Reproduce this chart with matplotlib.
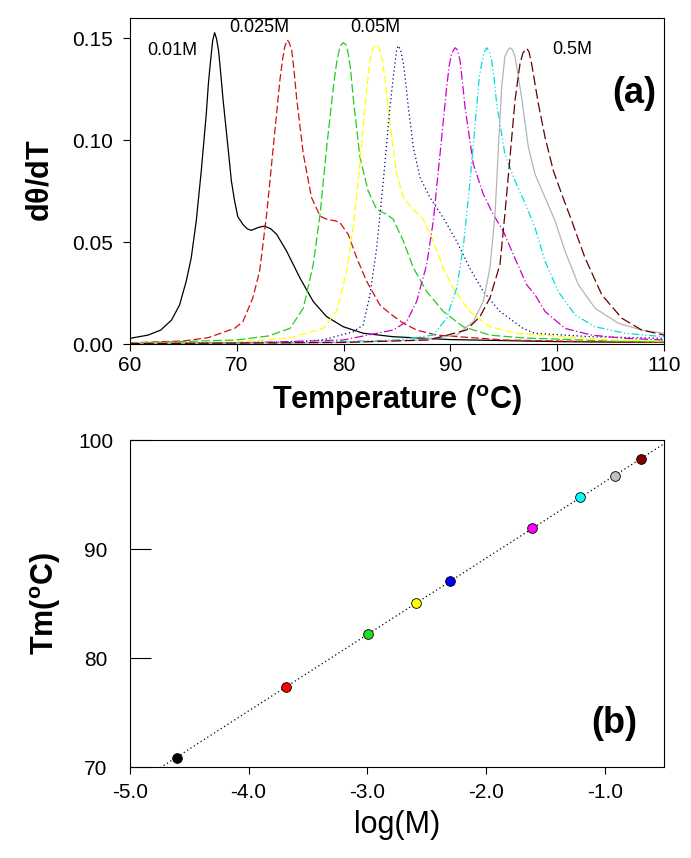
import numpy as np
import matplotlib
matplotlib.use("Agg")
import matplotlib.pyplot as plt

plt.rcParams['font.family'] = ['Liberation Sans', 'DejaVu Sans']
plt.rcParams['mathtext.default'] = 'regular'

# dθ/dT curves
t_black = [60.0, 61.7, 62.9, 63.9, 64.65, 65.27, 65.74, 66.21, 66.68, 67.15, 67.35, 67.55, 67.75, 67.93, 68.1,
           68.3, 68.5, 68.7, 69.18, 69.5, 69.8, 70.1, 70.58, 71.0, 71.36, 72.0, 72.6, 73.2, 73.74, 74.67, 75.92,
           77.16, 78.4, 79.97, 81.84, 84.65, 90, 100, 110]
y_black = [0.0028, 0.0044, 0.0069, 0.0118, 0.0192, 0.0308, 0.0423, 0.0604, 0.085, 0.113, 0.128, 0.139, 0.149,
           0.1528, 0.150, 0.144, 0.133, 0.121, 0.0966, 0.080, 0.0702, 0.0625, 0.0587, 0.0565, 0.0558, 0.0572,
           0.0579, 0.0565, 0.0538, 0.0456, 0.0324, 0.0209, 0.0135, 0.0085, 0.0053, 0.0036, 0.0022, 0.0012, 0.0008]

t_red = [60, 65, 67.3, 69.8, 70.58, 71.5, 72.14, 72.8, 73.42, 74.04, 74.3, 74.5, 74.73, 74.9, 75.14, 75.35, 75.6,
         76.23, 77.0, 77.8, 78.3, 78.73, 79.2, 79.66, 80.44, 81.23, 82.16, 83.4, 84.34, 85.6, 86.84, 88.7, 95,
         105, 110]
y_red = [0.0006, 0.0015, 0.0031, 0.0077, 0.011, 0.0226, 0.0357, 0.0637, 0.0966, 0.1295, 0.140, 0.146, 0.1492,
         0.148, 0.1443, 0.135, 0.121, 0.0933, 0.0719, 0.0628, 0.0615, 0.0609, 0.0605, 0.0596, 0.0538, 0.0423,
         0.0308, 0.0192, 0.015, 0.0102, 0.0069, 0.0044, 0.002, 0.001, 0.0008]

t_green = [60, 70, 73, 74.98, 76.23, 77.16, 77.8, 78.42, 79.04, 79.35, 79.66, 79.97, 80.2, 80.44, 80.65, 80.9,
           81.53, 82.3, 83.1, 84.04, 84.65, 85.6, 86.53, 87.78, 89.33, 91.2, 93.7, 96.8, 105, 110]
y_green = [0.0005, 0.002, 0.004, 0.0077, 0.0176, 0.039, 0.0637, 0.0966, 0.126, 0.138, 0.146, 0.148, 0.147,
           0.1426, 0.135, 0.121, 0.0917, 0.0752, 0.066, 0.0637, 0.0612, 0.0505, 0.0374, 0.0258, 0.016, 0.0085,
           0.0044, 0.003, 0.0015, 0.001]

t_yellow = [60, 70, 75, 78.1, 79.35, 80.29, 80.9, 81.53, 82.0, 82.47, 82.75, 83.0, 83.2, 83.4, 83.65, 83.88,
            84.34, 84.97, 85.6, 86.53, 87.46, 88.4, 89.33, 90.27, 91.8, 93.7, 96.2, 105, 110]
y_yellow = [0.0003, 0.001, 0.003, 0.0077, 0.016, 0.0357, 0.0571, 0.0884, 0.1163, 0.1393, 0.145, 0.1468, 0.1465,
            0.1443, 0.139, 0.1295, 0.108, 0.0834, 0.0719, 0.066, 0.0612, 0.0505, 0.0374, 0.0275, 0.016, 0.0085,
            0.0053, 0.002, 0.0015]

t_blue = [60, 75, 78, 80.9, 81.84, 82.47, 83.1, 83.72, 84.34, 84.7, 84.97, 85.12, 85.35, 85.6, 85.8, 86.06, 86.53,
          87.15, 88.09, 89.33, 90.58, 91.8, 93.08, 94.64, 96.8, 97.9, 103.2, 110]
y_blue = [0.0002, 0.001, 0.002, 0.006, 0.0094, 0.0242, 0.0472, 0.0801, 0.1163, 0.133, 0.1443, 0.1464, 0.144,
          0.1377, 0.129, 0.1163, 0.0966, 0.0818, 0.0719, 0.062, 0.0505, 0.0374, 0.0258, 0.016, 0.0077, 0.0053,
          0.0036, 0.0028]

t_magenta = [60, 70, 80, 84.65, 85.9, 86.84, 87.78, 88.4, 89.03, 89.65, 89.9, 90.12, 90.43, 90.65, 90.9, 91.1,
             91.37, 92.14, 93.08, 94.0, 94.95, 95.89, 97.14, 97.92, 98.86, 100.73, 103.2, 106.35, 110]
y_magenta = [0.0002, 0.0005, 0.002, 0.0069, 0.011, 0.0209, 0.039, 0.0604, 0.0933, 0.126, 0.137, 0.1426, 0.1454,
             0.1445, 0.1393, 0.130, 0.1163, 0.0884, 0.0736, 0.0637, 0.0554, 0.0439, 0.0291, 0.0242, 0.016, 0.0077,
             0.0044, 0.0028, 0.002]

t_cyan = [60, 75, 85, 88.4, 89.65, 90.59, 91.2, 91.84, 92.46, 92.7, 92.93, 93.15, 93.4, 93.65, 93.86, 94.1,
          94.33, 95.1, 96.05, 97.0, 97.92, 98.86, 100.1, 101.67, 103.54, 106.35, 110]
y_cyan = [0.0002, 0.0005, 0.002, 0.0044, 0.0127, 0.0275, 0.0472, 0.0801, 0.1163, 0.131, 0.1377, 0.143, 0.1454,
          0.1435, 0.1393, 0.130, 0.118, 0.0933, 0.0801, 0.069, 0.0571, 0.0406, 0.0258, 0.0143, 0.0085, 0.0053,
          0.0036]

t_gray = [60, 80, 87, 90.6, 92.14, 93.08, 93.7, 94.18, 94.5, 94.8, 95.1, 95.35, 95.58, 95.8, 96.05, 96.67, 97.3,
          97.92, 98.86, 99.8, 100.73, 101.98, 103.54, 105.72, 107.9, 110]
y_gray = [0.0002, 0.0008, 0.002, 0.0044, 0.011, 0.0209, 0.0374, 0.0637, 0.0966, 0.126, 0.141, 0.144, 0.1454,
          0.1445, 0.141, 0.121, 0.0966, 0.0834, 0.0719, 0.0604, 0.0456, 0.0291, 0.0176, 0.0102, 0.0069, 0.0053]

t_maroon = [60, 80, 88, 91.5, 92.77, 93.7, 94.64, 95.1, 95.58, 96.05, 96.52, 96.8, 97.14, 97.35, 97.6, 98.23,
            98.86, 99.64, 100.42, 101.36, 102.6, 104.17, 106.04, 107.9, 110]
y_maroon = [0.0002, 0.0008, 0.002, 0.0069, 0.0135, 0.0226, 0.039, 0.0637, 0.0917, 0.1196, 0.1377, 0.143, 0.1451,
            0.1435, 0.1377, 0.118, 0.1015, 0.085, 0.0736, 0.0604, 0.0423, 0.0242, 0.0127, 0.0069, 0.0044]

# panel (b): melting temperature vs salt concentration
conc = [0.01, 0.025, 0.05, 0.075, 0.1, 0.2, 0.3, 0.4, 0.5]
tm = [70.85, 77.37, 82.17, 85.07, 87.06, 91.96, 94.74, 96.7, 98.29]
point_colors = ['#000000', '#ff0000', '#22dd22', '#ffff00', '#0000ff', '#ff00ff', '#00ffff', '#c0c0c0', '#800000']

conc_labels = ['0.01M', '0.025M', '0.05M', '0.5M']
conc_label_pos = [(64.0, 0.1440), (72.1, 0.1555), (83.0, 0.1555), (101.4, 0.1445)]

curves = [
    (t_black, y_black, '#000000', '-'),
    (t_red, y_red, '#cc1111', (0, (6, 2.5))),
    (t_green, y_green, '#22cc22', (0, (7, 2.5))),
    (t_yellow, y_yellow, '#ffff00', (0, (6, 2.5))),
    (t_blue, y_blue, '#000080', (0, (1, 2.2))),
    (t_magenta, y_magenta, '#cc00cc', (0, (7, 2, 1, 2))),
    (t_cyan, y_cyan, '#00dddd', (0, (6, 2, 1, 2, 1, 2))),
    (t_gray, y_gray, '#b4b4b4', '-'),
    (t_maroon, y_maroon, '#660000', (0, (8, 3))),
]

fig = plt.figure(figsize=(6.91, 8.58), dpi=100)

# ---- panel (a)
ax1 = fig.add_axes([0.188, 0.599, 0.773, 0.380])
for t, y, c, ls in curves:
    ax1.plot(t, y, color=c, linestyle=ls, linewidth=0.9, solid_joinstyle='round', dash_joinstyle='round')
ax1.set_xlim(60, 110)
ax1.set_ylim(0, 0.16)
ax1.set_xticks([60, 70, 80, 90, 100, 110])
ax1.set_yticks([0.0, 0.05, 0.10, 0.15])
ax1.set_yticklabels(['0.00', '0.05', '0.10', '0.15'])
ax1.tick_params(direction='out', length=5, width=0.8, labelsize=15)
ax1.tick_params(axis='y', pad=7)
ax1.set_xlabel(r'Temperature ($^o$C)', fontsize=22, fontweight='bold', labelpad=6)
ax1.set_ylabel(r'd$\theta$/dT', fontsize=22, fontweight='bold', labelpad=12)
for lab, (x, y) in zip(conc_labels, conc_label_pos):
    ax1.text(x, y, lab, fontsize=13, ha='center', va='center')
ax1.text(0.985, 0.77, '(a)', transform=ax1.transAxes, fontsize=26, fontweight='bold', ha='right', va='center')

# ---- panel (b)
ax2 = fig.add_axes([0.188, 0.106, 0.773, 0.381])
logm = np.log(conc)
slope, icpt = np.polyfit(logm, tm, 1)
xx = np.array([-5.0, -0.5])
ax2.plot(xx, slope * xx + icpt, color='black', linestyle=(0, (1, 2.2)), linewidth=0.9)
for x, y, c in zip(logm, tm, point_colors):
    ax2.plot(x, y, 'o', color=c, markeredgecolor='black', markeredgewidth=0.6, markersize=7)
ax2.set_xlim(-5.0, -0.5)
ax2.set_ylim(70, 100)
ax2.set_xticks([-5, -4, -3, -2, -1])
ax2.set_xticklabels(['-5.0', '-4.0', '-3.0', '-2.0', '-1.0'])
ax2.set_yticks([70, 80, 90, 100])
ax2.tick_params(axis='x', direction='out', length=5, width=0.8, labelsize=15, pad=6.5)
ax2.tick_params(axis='y', direction='in', length=15, width=0.8, labelsize=15, pad=24.5)
for lbl in ax2.get_yticklabels():
    lbl.set_horizontalalignment('center')
ax2.set_xlabel('log(M)', fontsize=22, labelpad=6)
ax2.set_ylabel(r'Tm($^o$C)', fontsize=22, fontweight='bold', labelpad=11)
ax2.text(0.95, 0.08, '(b)', transform=ax2.transAxes, fontsize=26, fontweight='bold', ha='right', va='bottom')

fig.savefig('out.png', dpi=100)
